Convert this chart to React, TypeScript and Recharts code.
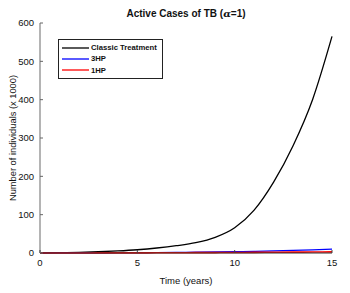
import React from "react";
import { LineChart, Line, XAxis, YAxis, Legend } from "recharts";

const years = [0, 1, 2, 3, 4, 5, 6, 7, 8, 9, 10, 11, 12, 13, 14, 15];
const classic = [0, 0.8, 1.8, 3.2, 5.4, 8.5, 13, 19, 27, 41, 66, 112, 185, 280, 400, 565];
const threeHP = [0, 0.1, 0.3, 0.5, 0.7, 1, 1.3, 1.7, 2.2, 2.8, 3.5, 4.4, 5.4, 6.6, 8.2, 10];
const oneHP = [0, 0.05, 0.1, 0.2, 0.3, 0.4, 0.5, 0.7, 0.9, 1.1, 1.3, 1.6, 1.9, 2.2, 2.6, 3];
const xTicks = [0, 5, 10, 15];
const yTicks = [0, 100, 200, 300, 400, 500, 600];
const seriesNames = ["Classic Treatment", "3HP", "1HP"];
const seriesColors = ["#000000", "#0000ff", "#ff0000"];

const data = years.map((t, i) => ({ t, classic: classic[i], h3: threeHP[i], h1: oneHP[i] }));

const FONT = "'Liberation Sans', Arial, sans-serif";
const TICK = 3;

const BottomTick = (props: any) => {
  const { x, y, payload } = props;
  const axisY = y - 6;
  return (
    <g>
      <line x1={x} x2={x} y1={axisY} y2={axisY - TICK} stroke="#444" strokeWidth={1} />
      <text x={x} y={y} dy="0.71em" textAnchor="middle" fontSize={9.5} fontFamily={FONT} fill="#111">
        {payload.value}
      </text>
    </g>
  );
};

const TopTick = (props: any) => {
  const { x, y } = props;
  return <line x1={x} x2={x} y1={y} y2={y + TICK} stroke="#444" strokeWidth={1} />;
};

const LeftTick = (props: any) => {
  const { x, y, payload } = props;
  const axisX = x + 6;
  return (
    <g>
      <line x1={axisX} x2={axisX + TICK} y1={y} y2={y} stroke="#666" strokeWidth={1} />
      <text x={x} y={y} dy="0.35em" textAnchor="end" fontSize={9.5} fontFamily={FONT} fill="#111">
        {payload.value}
      </text>
    </g>
  );
};

const RightTick = (props: any) => {
  const { x, y } = props;
  return <line x1={x - TICK} x2={x} y1={y} y2={y} stroke="#666" strokeWidth={1} />;
};

const LegendBox = () => (
  <div
    style={{
      border: "1px solid #222",
      background: "#fff",
      width: 100,
      padding: "2px 0 2px 3px",
      fontFamily: FONT,
      fontSize: 7.7,
      fontWeight: "bold",
      color: "#111",
      lineHeight: "11.3px",
    }}
  >
    {seriesNames.map((n, i) => (
      <div key={n} style={{ display: "flex", alignItems: "center", height: 11.3 }}>
        <svg width={27} height={4} style={{ marginRight: 2 }}>
          <line x1={0} x2={27} y1={2} y2={2} stroke={seriesColors[i]} strokeWidth={1.3} />
        </svg>
        <span>{n}</span>
      </div>
    ))}
  </div>
);

export default function App() {
  return (
    <div style={{ position: "absolute", left: 0, top: 0, width: 350, height: 293, background: "#fff" }}>
      <div
        style={{
          position: "absolute",
          left: 40,
          width: 292,
          top: 7,
          textAlign: "center",
          fontFamily: FONT,
          fontWeight: "bold",
          fontSize: 10,
          color: "#111",
          lineHeight: "14px",
        }}
      >
        Active Cases of TB (<span style={{ fontFamily: "'DejaVu Serif', serif", fontStyle: "italic" }}>α</span>=1)
      </div>
      <LineChart width={350} height={293} data={data} margin={{ top: 23, right: 18, bottom: 0, left: 0 }}>
        <XAxis
          xAxisId="b"
          dataKey="t"
          type="number"
          domain={[0, 15]}
          ticks={xTicks}
          height={40}
          tickSize={0}
          tickMargin={6}
          tickLine={false}
          axisLine={{ stroke: "#333", strokeWidth: 1 }}
          tick={<BottomTick />}
          label={(p: any) => {
            const vb = p.viewBox;
            return (
              <text x={vb.x + vb.width / 2} y={vb.y + 24} dy="0.71em" textAnchor="middle" fontSize={9.5} fontFamily={FONT} fill="#111">
                Time (years)
              </text>
            );
          }}
        />
        <XAxis
          xAxisId="t"
          orientation="top"
          dataKey="t"
          type="number"
          domain={[0, 15]}
          ticks={xTicks}
          height={0}
          tickSize={0}
          tickMargin={0}
          tickLine={false}
          axisLine={{ stroke: "#333", strokeWidth: 1 }}
          tick={<TopTick />}
        />
        <YAxis
          yAxisId="l"
          type="number"
          domain={[0, 600]}
          ticks={yTicks}
          width={40}
          tickSize={0}
          tickMargin={6}
          tickLine={false}
          axisLine={{ stroke: "#8c8c8c", strokeWidth: 1.3 }}
          tick={<LeftTick />}
          label={(p: any) => {
            const vb = p.viewBox;
            const cx = vb.x + 13;
            const cy = vb.y + vb.height / 2;
            return (
              <text x={cx} y={cy} dy="0.35em" textAnchor="middle" fontSize={9.3} fontFamily={FONT} fill="#111" transform={`rotate(-90, ${cx}, ${cy})`}>
                Number of individuals (x 1000)
              </text>
            );
          }}
        />
        <YAxis
          yAxisId="r"
          orientation="right"
          type="number"
          domain={[0, 600]}
          ticks={yTicks}
          width={0}
          tickSize={0}
          tickMargin={0}
          tickLine={false}
          axisLine={{ stroke: "#444", strokeWidth: 1 }}
          tick={<RightTick />}
        />
        <Legend
          layout="horizontal"
          align="center"
          verticalAlign="middle"
          content={<LegendBox />}
          wrapperStyle={{ position: "absolute", left: 58, top: 39, width: "auto", height: "auto" }}
        />
        <Line xAxisId="b" yAxisId="l" type="monotone" dataKey="classic" stroke={seriesColors[0]} strokeWidth={1.3} dot={false} isAnimationActive={false} />
        <Line xAxisId="b" yAxisId="l" type="monotone" dataKey="h3" stroke={seriesColors[1]} strokeWidth={1.2} dot={false} isAnimationActive={false} />
        <Line xAxisId="b" yAxisId="l" type="monotone" dataKey="h1" stroke={seriesColors[2]} strokeWidth={1.6} dot={false} isAnimationActive={false} />
      </LineChart>
    </div>
  );
}
